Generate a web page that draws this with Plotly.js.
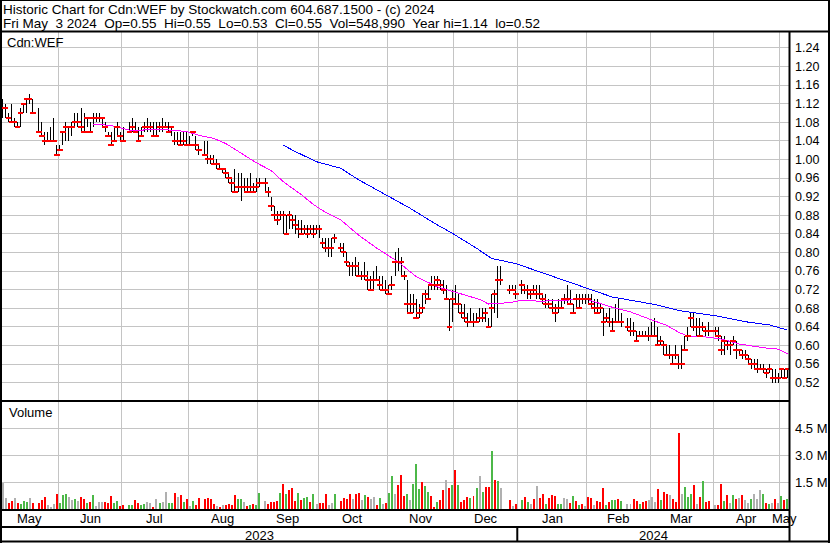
<!DOCTYPE html>
<html><head><meta charset="utf-8">
<script src="https://cdn.plot.ly/plotly-3.0.1.min.js"></script>
<style>
html,body{margin:0;padding:0;background:#fff}
#chart{width:830px;height:543px}
#chart .scatterlayer path, #chart .barlayer path, #chart .gridlayer path{shape-rendering:crispEdges}
</style>
</head><body><div id="chart"></div>
<script>
// ---------------- DATA ----------------
const startDate = '2023-05-05';
const endDate = '2024-05-03';
const holidays = ['2023-05-22','2023-07-03','2023-08-07','2023-09-04','2023-10-09',
  '2023-12-25','2023-12-26','2024-01-01','2024-02-19','2024-03-29'];

// daily high / low / close, one line per month (trading days only)
const high = [
 1.13,1.12,1.10,1.12,1.09,1.08,1.11,1.12,1.13,1.14,1.13,1.11,1.08,1.06,1.06,1.07,1.09,1.03,
 1.03,1.06,1.08,1.07,1.08,1.10,1.10,1.11,1.10,1.09,1.08,1.10,1.10,1.10,1.09,1.08,1.06,1.06,1.07,1.08,1.06,1.07,
 1.08,1.09,1.08,1.07,1.07,1.08,1.09,1.08,1.08,1.08,1.08,1.09,1.08,1.08,1.07,1.06,1.06,1.06,1.06,1.06,
 1.05,1.06,1.05,1.03,1.04,1.04,1.01,1.01,1.00,0.99,0.98,0.98,0.97,0.96,0.98,0.97,0.97,0.96,0.96,0.97,0.95,0.96,
 0.96,0.96,0.94,0.92,0.90,0.89,0.89,0.89,0.88,0.89,0.88,0.88,0.87,0.87,0.86,0.86,0.86,0.86,0.86,0.86,
 0.83,0.83,0.83,0.83,0.84,0.82,0.82,0.80,0.78,0.78,0.79,0.78,0.76,0.78,0.76,0.75,0.76,0.77,0.75,0.75,0.74,
 0.73,0.75,0.80,0.81,0.79,0.76,0.74,0.71,0.71,0.70,0.69,0.71,0.72,0.73,0.75,0.75,0.75,0.74,0.74,0.73,0.70,0.72,
 0.73,0.71,0.69,0.69,0.67,0.68,0.67,0.67,0.68,0.68,0.68,0.66,0.71,0.72,0.77,0.77,0.73,0.73,0.73,
 0.74,0.73,0.73,0.72,0.73,0.73,0.73,0.71,0.71,0.70,0.70,0.69,0.70,0.70,0.71,0.73,0.72,0.69,0.71,0.71,0.71,0.71,
 0.71,0.71,0.70,0.70,0.69,0.68,0.67,0.68,0.66,0.69,0.70,0.67,0.66,0.66,0.65,0.63,0.63,0.63,0.63,0.64,
 0.65,0.66,0.64,0.62,0.61,0.60,0.60,0.58,0.60,0.58,0.60,0.62,0.64,0.67,0.67,0.66,0.66,0.65,0.64,0.65,
 0.64,0.64,0.62,0.62,0.61,0.61,0.62,0.61,0.59,0.59,0.59,0.58,0.57,0.57,0.57,0.56,0.56,0.55,0.56,0.55,0.55,0.54,
 0.55,0.55,0.55];
const low = [
 1.09,1.09,1.08,1.08,1.07,1.07,1.07,1.10,1.10,1.12,1.10,1.06,1.05,1.03,1.04,1.04,1.04,1.01,
 1.02,1.03,1.04,1.04,1.05,1.07,1.07,1.06,1.06,1.07,1.06,1.07,1.08,1.08,1.07,1.06,1.05,1.03,1.04,1.05,1.04,1.04,
 1.06,1.06,1.06,1.04,1.05,1.06,1.06,1.06,1.05,1.05,1.06,1.06,1.07,1.06,1.05,1.03,1.03,1.03,1.03,1.03,
 1.03,1.05,1.02,1.01,1.01,0.99,0.99,0.99,0.98,0.98,0.97,0.96,0.95,0.93,0.93,0.93,0.91,0.93,0.93,0.93,0.93,0.93,
 0.94,0.93,0.92,0.89,0.87,0.86,0.87,0.84,0.84,0.85,0.85,0.84,0.83,0.84,0.84,0.83,0.84,0.83,0.84,0.83,
 0.81,0.80,0.79,0.79,0.82,0.80,0.79,0.77,0.75,0.75,0.75,0.75,0.74,0.74,0.72,0.72,0.72,0.74,0.72,0.72,0.71,
 0.71,0.72,0.75,0.76,0.75,0.74,0.67,0.67,0.67,0.66,0.66,0.67,0.69,0.70,0.72,0.72,0.72,0.72,0.71,0.70,0.63,0.65,
 0.69,0.67,0.66,0.65,0.64,0.65,0.64,0.65,0.65,0.65,0.65,0.64,0.64,0.67,0.66,0.73,0.71,0.72,0.70,
 0.71,0.71,0.70,0.70,0.71,0.70,0.70,0.69,0.68,0.68,0.67,0.65,0.67,0.68,0.69,0.69,0.69,0.67,0.68,0.68,0.69,0.69,
 0.69,0.68,0.67,0.67,0.67,0.62,0.65,0.64,0.63,0.65,0.65,0.64,0.63,0.62,0.62,0.61,0.62,0.62,0.62,0.61,
 0.62,0.62,0.60,0.60,0.58,0.58,0.57,0.56,0.57,0.55,0.55,0.59,0.61,0.64,0.63,0.62,0.62,0.63,0.62,0.62,
 0.62,0.61,0.58,0.58,0.59,0.58,0.60,0.57,0.58,0.57,0.57,0.56,0.55,0.55,0.54,0.55,0.54,0.53,0.54,0.52,0.52,0.52,
 0.53,0.53,0.53];
const close = [
 1.11,1.11,1.09,1.08,1.08,1.07,1.10,1.12,1.13,1.13,1.10,1.06,1.05,1.04,1.04,1.04,1.04,1.01,
 1.02,1.06,1.07,1.07,1.07,1.08,1.08,1.07,1.06,1.09,1.06,1.09,1.09,1.09,1.09,1.07,1.05,1.03,1.04,1.07,1.05,1.04,
 1.06,1.07,1.06,1.04,1.05,1.07,1.07,1.07,1.05,1.05,1.07,1.07,1.07,1.06,1.07,1.04,1.04,1.03,1.04,1.03,
 1.03,1.06,1.03,1.02,1.01,1.00,1.00,0.99,0.99,0.98,0.98,0.97,0.96,0.95,0.93,0.94,0.94,0.94,0.93,0.94,0.93,0.94,
 0.95,0.95,0.93,0.90,0.88,0.87,0.88,0.88,0.84,0.88,0.87,0.86,0.85,0.84,0.85,0.84,0.85,0.84,0.85,0.85,
 0.82,0.81,0.81,0.81,0.83,0.81,0.80,0.78,0.77,0.77,0.77,0.75,0.75,0.75,0.74,0.72,0.74,0.74,0.73,0.72,0.72,
 0.71,0.73,0.78,0.78,0.78,0.75,0.69,0.67,0.69,0.66,0.67,0.68,0.71,0.70,0.73,0.73,0.74,0.73,0.72,0.70,0.64,0.70,
 0.69,0.69,0.67,0.66,0.65,0.65,0.65,0.65,0.66,0.66,0.67,0.64,0.68,0.71,0.74,0.74,0.72,0.72,0.71,
 0.73,0.72,0.72,0.71,0.72,0.71,0.71,0.70,0.69,0.69,0.68,0.67,0.68,0.68,0.70,0.70,0.69,0.67,0.70,0.68,0.70,0.70,
 0.70,0.69,0.68,0.67,0.68,0.65,0.66,0.65,0.63,0.65,0.65,0.65,0.64,0.63,0.63,0.61,0.62,0.62,0.62,0.62,
 0.62,0.62,0.60,0.61,0.60,0.58,0.58,0.56,0.58,0.56,0.56,0.59,0.62,0.66,0.64,0.64,0.62,0.64,0.63,0.63,
 0.63,0.62,0.59,0.61,0.60,0.60,0.61,0.59,0.59,0.58,0.58,0.57,0.56,0.56,0.55,0.55,0.55,0.54,0.55,0.53,0.53,0.53,
 0.55,0.53,0.55];

// daily volume in millions of shares
const volumeMillions = [
 1.47,0.60,0.35,0.46,0.60,0.35,0.28,0.45,0.41,0.60,0.35,0.35,0.50,0.67,0.22,0.13,0.28,0.84,
 0.35,0.78,0.84,0.67,0.50,0.56,0.45,0.67,0.56,0.35,0.41,0.78,0.17,0.39,0.37,0.41,0.35,0.72,0.32,0.46,0.17,0.24,
 0.22,0.22,0.52,0.33,0.22,0.26,0.39,0.35,0.13,0.56,0.35,0.41,0.95,0.35,0.35,0.89,0.65,0.78,0.39,0.56,
 0.17,0.45,0.22,0.61,0.54,0.61,0.56,0.28,0.17,0.11,0.22,0.20,0.26,0.22,0.78,0.56,0.56,0.39,0.17,0.22,0.28,0.22,
 0.89,0.45,0.28,0.39,0.39,0.43,0.89,1.39,0.84,1.06,1.17,0.45,0.89,0.50,0.61,0.67,0.39,0.84,0.28,0.33,
 0.33,0.84,0.22,0.33,0.84,0.45,0.61,0.56,0.84,0.56,0.84,0.89,0.50,0.78,0.67,0.56,0.67,0.20,0.61,0.28,0.33,
 0.89,1.84,0.84,1.34,1.90,0.72,0.84,0.50,1.39,2.50,1.10,1.50,1.28,0.95,0.72,0.11,0.39,0.50,1.06,1.61,1.17,1.34,
 2.17,1.34,0.39,0.50,0.67,0.61,0.72,1.17,1.84,0.95,1.23,1.23,3.23,1.61,1.56,1.17,0.50,0.17,0.28,
 0.50,0.67,0.39,0.28,0.56,1.28,0.61,0.84,0.28,0.61,0.78,0.72,0.28,0.28,0.61,0.56,0.33,0.72,0.45,0.22,0.28,0.17,
 0.67,0.61,0.22,0.45,0.39,1.17,0.22,0.39,0.50,0.50,0.56,0.45,0.28,0.28,0.56,0.45,0.28,0.39,0.45,0.50,
 0.67,0.39,1.10,0.50,0.95,0.84,0.78,0.56,0.39,4.24,0.84,1.23,0.67,0.84,1.34,0.28,0.67,1.56,0.39,0.45,
 0.22,0.22,1.39,0.45,0.78,0.33,0.78,0.56,0.61,0.78,0.50,0.33,0.56,0.84,0.56,1.06,0.84,0.33,0.28,0.33,0.56,0.33,
 0.72,0.50,0.549];
// day direction: u = up, d = down, n = unchanged
const volumeDirection = [
 'nnddnduuunddddnnnd','uuunnunddudunnnddduudd','uudduunndnunnuudndud','nuddddddndndddduundudu',
 'unddddududdduduudund','ddnnuddddnddnudnndund','uundddunuuuduudduddndu','dudddudunuddudundnd',
 'udundndduddduunndududn','ddnddduduudunndduddn','nnduddndddnuuudndudd','nddudnudndnnunnnudundn','udu'].join('');

const ma30Dates = ['2023-06-16','2023-06-26','2023-07-04','2023-07-10','2023-07-18','2023-07-31','2023-08-04',
 '2023-08-11','2023-08-17','2023-08-24','2023-08-31','2023-09-07','2023-09-13','2023-09-21','2023-09-27',
 '2023-10-03','2023-10-10','2023-10-18','2023-10-26','2023-11-06','2023-11-14','2023-11-23','2023-12-04',
 '2023-12-13','2023-12-18','2023-12-27','2024-01-02','2024-01-10','2024-01-22','2024-01-31','2024-02-13',
 '2024-02-21','2024-03-01','2024-03-08','2024-03-14','2024-03-19','2024-03-26','2024-04-03','2024-04-11',
 '2024-04-23','2024-04-30','2024-05-03'];
const ma30 = [1.076,1.073,1.063,1.063,1.065,1.060,1.052,1.045,1.034,1.013,0.993,0.976,0.952,0.924,0.903,
 0.886,0.870,0.837,0.809,0.780,0.748,0.726,0.712,0.699,0.689,0.692,0.697,0.695,0.697,0.700,0.682,
 0.672,0.655,0.643,0.628,0.620,0.619,0.614,0.603,0.595,0.592,0.582];
const ma90Dates = ['2023-09-13','2023-09-18','2023-09-28','2023-10-10','2023-10-18','2023-10-31','2023-11-10',
 '2023-11-22','2023-11-30','2023-12-12','2023-12-19','2023-12-29','2024-01-10','2024-01-23','2024-02-02',
 '2024-02-13','2024-02-23','2024-03-04','2024-03-14','2024-04-01','2024-04-16','2024-04-25','2024-05-03'];
const ma90 = [1.031,1.020,0.995,0.981,0.956,0.924,0.895,0.863,0.841,0.809,0.787,0.776,0.758,0.737,0.719,
 0.704,0.695,0.688,0.675,0.664,0.650,0.644,0.633];

const monthLabels = ['May','Jun','Jul','Aug','Sep','Oct','Nov','Dec','Jan','Feb','Mar','Apr','May'];
const yearLabels = ['2023','2024'];
const priceTicks = [0.52,0.56,0.60,0.64,0.68,0.72,0.76,0.80,0.84,0.88,0.92,0.96,1.00,1.04,1.08,1.12,1.16,1.20,1.24];
const volumeTicks = [1.5,3.0,4.5];
const volumeTickText = ['1.5 M','3.0 M','4.5 M'];
const symbolLabel = 'Cdn:WEF';
const volumeLabel = 'Volume';
const headerLine1 = 'Historic Chart for Cdn:WEF by Stockwatch.com 604.687.1500 - (c) 2024';
const headerLine2 = 'Fri May\u00a0 3 2024\u00a0 Op=0.55\u00a0 Hi=0.55\u00a0 Lo=0.53\u00a0 Cl=0.55\u00a0 Vol=548,990\u00a0 Year hi=1.14\u00a0 lo=0.52';

// ---------------- CALENDAR (weekday slots) ----------------
function ymd(d){ return d.toISOString().slice(0,10); }
const slotDates = [], slotOf = {};
for (let d = new Date(startDate+'T00:00:00Z'); ymd(d) <= endDate; d.setUTCDate(d.getUTCDate()+1)) {
  const wd = d.getUTCDay();
  if (wd === 0 || wd === 6) continue;
  slotOf[ymd(d)] = slotDates.length; slotDates.push(ymd(d));
}
const nSlots = slotDates.length;
const tradingDates = slotDates.filter(s => !holidays.includes(s));
const xs = tradingDates.map(s => slotOf[s]);

// month boundaries: left edge of the last weekday on/before the 1st
const boundaries = [];
{
  let y = 2023, m = 6;
  while (true) {
    const first = y + '-' + String(m).padStart(2,'0') + '-01';
    if (first > endDate) break;
    let i = slotDates.length - 1;
    while (i > 0 && slotDates[i] > first) i--;
    boundaries.push(i - 0.5);
    m++; if (m > 12) { m = 1; y++; }
  }
}
const edges = [-0.5].concat(boundaries, [nSlots - 0.5]);
const janBoundary = boundaries[7];

// ---------------- GEOMETRY HELPERS ----------------
const W = 830, H = 543;
const PL = 1, PR = 789, PT = 32, PB = 509;
const X = px => (px - PL) / (PR - PL);
const Y = py => (PB - py) / (PB - PT);

// ---------------- TRACES ----------------
const hlX = [], hlY = [];
xs.forEach((x, i) => { hlX.push(x, x, null); hlY.push(low[i], high[i], null); });

const dirColor = {u:'#4cb848', d:'#ff0000', n:'#b0b0b0'};
const volColors = xs.map((x, i) => dirColor[volumeDirection[i]] || '#b0b0b0');

const traces = [
  {type:'bar', x: xs, y: volumeMillions, xaxis:'x2', yaxis:'y2', width:0.66,
   marker:{color: volColors, line:{width:0}}, hoverinfo:'skip'},
  {type:'scatter', mode:'lines', x: hlX, y: hlY, line:{color:'#000', width:1}, hoverinfo:'skip'},
  {type:'scatter', mode:'lines', x: ma30Dates.map(d => slotOf[d]), y: ma30, line:{color:'#ff00ff', width:1}, hoverinfo:'skip'},
  {type:'scatter', mode:'lines', x: ma90Dates.map(d => slotOf[d]), y: ma90, line:{color:'#0000ff', width:1}, hoverinfo:'skip'},
  {type:'scatter', mode:'markers', x: xs, y: close,
   marker:{symbol:'line-ew', size:4, color:'#ff0000', line:{color:'#ff0000', width:2}}, hoverinfo:'skip'}
];

// ---------------- ANNOTATIONS ----------------
const FONT = 'Liberation Sans, Arial, Helvetica, sans-serif';
const ann = [];
function txt(text, x, y, size, xanchor, xref) {
  ann.push({text, x, y, xref: xref || 'paper', yref:'paper', xanchor: xanchor || 'left', yanchor:'middle',
    showarrow:false, font:{family:FONT, size, color:'#000'}, borderpad:0});
}
txt(headerLine1, X(2), Y(9.5), 13.5);
txt(headerLine2, X(2), Y(23.5), 13.5);
txt(symbolLabel, X(6), Y(42), 13);
txt(volumeLabel, X(8), Y(412.5), 13);
monthLabels.forEach((lab, i) => txt(lab, (edges[i] + edges[i+1]) / 2, Y(518.5), 13, 'center', 'x'));
txt(yearLabels[0], (edges[0] + janBoundary) / 2, Y(535), 13, 'center', 'x');
txt(yearLabels[1], (janBoundary + edges[edges.length-1]) / 2, Y(535), 13, 'center', 'x');

// ---------------- FRAME LINES ----------------
const shapes = [];
function hline(py, x0, x1, w) { shapes.push({type:'line', xref:'paper', yref:'paper', x0:X(x0), x1:X(x1), y0:Y(py), y1:Y(py), line:{color:'#000', width:w}, layer:'above'}); }
function vline(px, y0, y1, w) { shapes.push({type:'line', xref:'paper', yref:'paper', x0:X(px), x1:X(px), y0:Y(y0), y1:Y(y1), line:{color:'#000', width:w}, layer:'above'}); }
hline(0.5, 0, 830, 1);
hline(31.5, 0, 830, 2);
hline(401, 0, 789.5, 2);
hline(510, 0, 789.5, 2);
hline(527, 0, 789.5, 2);
hline(541.5, 0, 830, 2);
vline(1, 0, 543, 2);
vline(789.5, 31, 542, 2);
vline(829, 0, 543, 2);
shapes.push({type:'line', xref:'x', yref:'paper', x0:janBoundary, x1:janBoundary, y0:Y(527), y1:Y(541.5), line:{color:'#000', width:2}, layer:'above'});

const gridColor = '#c4c4c4';
const xaxisBase = {range:[-0.5, nSlots - 0.5], tickvals: boundaries, showticklabels:false, ticks:'',
  showgrid:true, gridcolor:gridColor, gridwidth:1, zeroline:false, showline:false, fixedrange:true};

const layout = {
  width: W, height: H,
  margin: {l: PL, r: W - PR, t: PT, b: H - PB, pad: 0, autoexpand:false},
  paper_bgcolor:'#fff', plot_bgcolor:'#fff', showlegend:false, bargap:0,
  font:{family: FONT, size:12, color:'#000'},
  xaxis: Object.assign({}, xaxisBase, {domain:[0,1], anchor:'y'}),
  xaxis2: Object.assign({}, xaxisBase, {domain:[0,1], anchor:'y2', matches:'x'}),
  yaxis: {domain:[Y(400), 1], range:[0.4826, 1.274], side:'right', anchor:'x',
    tickvals: priceTicks, ticktext: priceTicks.map(v => v.toFixed(2)),
    showgrid:true, gridcolor:gridColor, gridwidth:1, zeroline:false, showline:false, ticks:'',
    ticklabelstandoff:5, tickfont:{family:FONT, size:12.5, color:'#000'}, fixedrange:true},
  yaxis2: {domain:[0, Y(402)], range:[0, 5.967], side:'right', anchor:'x2',
    tickvals: volumeTicks, ticktext: volumeTickText,
    showgrid:true, gridcolor:gridColor, gridwidth:1, zeroline:false, showline:false, ticks:'',
    ticklabelstandoff:5, tickfont:{family:FONT, size:13, color:'#000'}, fixedrange:true},
  annotations: ann,
  shapes: shapes
};

Plotly.newPlot('chart', traces, layout, {staticPlot:true, displayModeBar:false});
</script>
</body></html>
